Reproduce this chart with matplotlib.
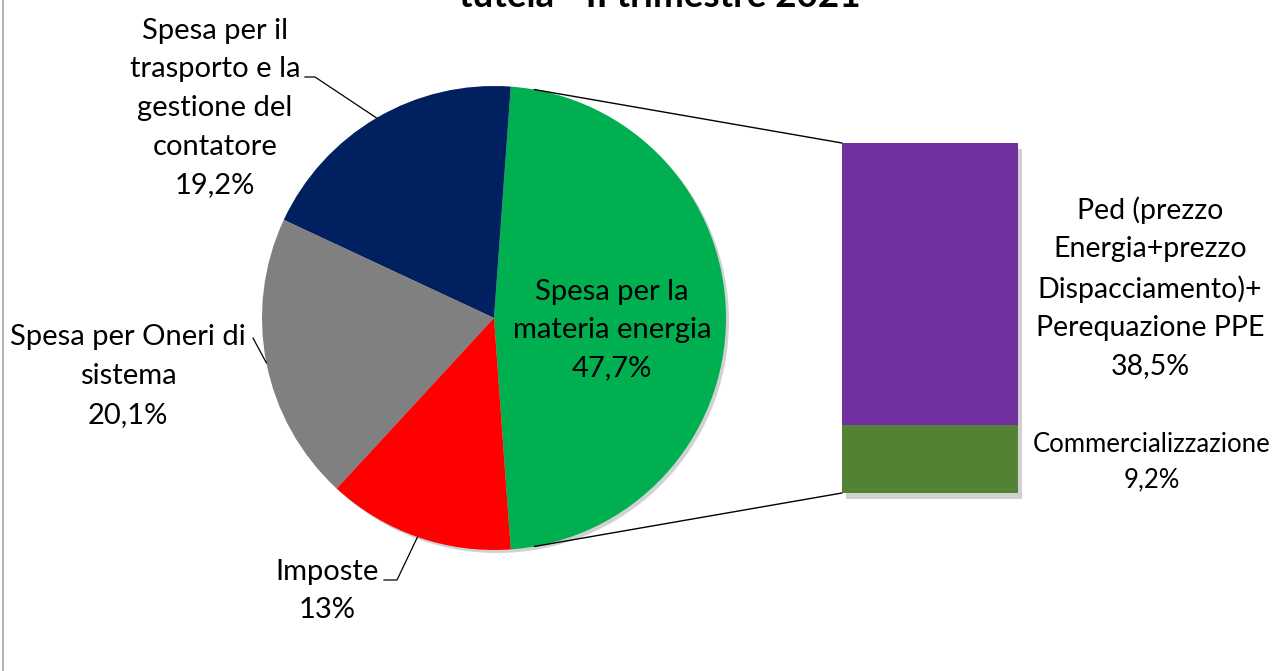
import numpy as np
import matplotlib
matplotlib.use('Agg')
import matplotlib.pyplot as plt
from matplotlib.patches import ConnectionPatch, Circle, Rectangle

plt.rcParams['font.family'] = ['Lato', 'DejaVu Sans']

# dati: torta principale
pie_labels = ['Spesa per la\nmateria energia', 'Spesa per il\ntrasporto e la\ngestione del\ncontatore',
              'Spesa per Oneri di\nsistema', 'Imposte']
pie_values = [47.7, 19.2, 20.1, 13.0]
pie_pct = ['47,7%', '19,2%', '20,1%', '13%']
pie_colors = ['#00B050', '#002060', '#808080', '#FF0000']

# dati: barra di dettaglio della materia energia
bar_labels = ['Commercializzazione', 'Ped (prezzo\nEnergia+prezzo\nDispacciamento)+\nPerequazione PPE']
bar_values = [9.2, 38.5]
bar_pct = ['9,2%', '38,5%']
bar_colors = ['#548235', '#7030A0']

W, H = 1274, 671
fig = plt.figure(figsize=(W / 100, H / 100), dpi=100)
ax = fig.add_axes([0, 0, 1, 1])

cx, cy, R = 494, H - 318, 232
start = -pie_values[0] / sum(pie_values) * 360 / 2
wedges, _ = ax.pie(pie_values, colors=pie_colors, startangle=start, counterclock=True,
                   center=(cx, cy), radius=R, wedgeprops=dict(linewidth=0))
# ombra leggera sotto la torta
ax.add_patch(Circle((cx + 3, cy - 3), R, color='#000000', alpha=0.18, lw=0, zorder=0))
ax.set_xlim(0, W)
ax.set_ylim(0, H)
ax.set_aspect('equal')
ax.axis('off')

def edge(theta, r=R):
    t = np.deg2rad(theta)
    return cx + r * np.cos(t), cy + r * np.sin(t)

txt = dict(fontsize=21, ha='center', va='center', linespacing=1.6, color='black')

# etichetta verde dentro la fetta
ax.text(612, H - 330, pie_labels[0] + '\n' + pie_pct[0], **{**txt, 'linespacing': 1.56})

# etichette esterne con linee guida
mids = [(w.theta1 + w.theta2) / 2 for w in wedges]

ax.text(215, H - 108, pie_labels[1] + '\n' + pie_pct[1], **txt)
x0, y0 = edge(mids[1])
ax.plot([305, 315, x0], [H - 77, H - 77, y0], color='black', lw=0.9)

ax.text(128, H - 376, pie_labels[2] + '\n' + pie_pct[2], **txt)
x0, y0 = edge(mids[2])
ax.plot([253, x0], [H - 338, y0], color='black', lw=0.9)

ax.text(327, H - 591, pie_labels[3] + '\n' + pie_pct[3], **txt)
x0, y0 = edge(mids[3])
ax.plot([384, 397, x0], [H - 580, H - 580, y0], color='black', lw=0.9)

# barra
bx = fig.add_axes([842 / W, (H - 493) / H, 176 / W, 350 / H])
bx.add_patch(Rectangle((-0.5 + 0.02, -0.8), 1, sum(bar_values), color='#000000', alpha=0.18, lw=0,
                       zorder=0, clip_on=False))
bottom = 0
for v, c in zip(bar_values, bar_colors):
    bx.bar(0, v, bottom=bottom, width=1, color=c, linewidth=0, zorder=2)
    bottom += v
bx.set_xlim(-0.5, 0.5)
bx.set_ylim(0, sum(bar_values))
bx.axis('off')

ax.text(1150, H - 288, bar_labels[1] + '\n' + bar_pct[1], **{**txt, 'fontsize': 20.5, 'linespacing': 1.58})
ax.text(1152, H - 462, bar_labels[0] + '\n' + bar_pct[0], **{**txt, 'fontsize': 18.5, 'linespacing': 1.5})

# linee di collegamento torta-barra
for ang, yb in [(80, sum(bar_values)), (-80, 0)]:
    con = ConnectionPatch(xyA=edge(ang), coordsA=ax.transData, xyB=(-0.5, yb), coordsB=bx.transData,
                          color='black', lw=1)
    fig.add_artist(con)

# titolo (tagliato in alto come nell'originale)
ax.text(660, H - 7, 'tutela - II trimestre 2021', fontsize=26.5, fontweight='bold',
        ha='center', va='baseline')

# bordo sinistro del riquadro
fig.add_artist(plt.Line2D([3 / W, 3 / W], [0, 1], transform=fig.transFigure, color='#A6A6A6', lw=1.2))

fig.savefig('out.png', dpi=100)
